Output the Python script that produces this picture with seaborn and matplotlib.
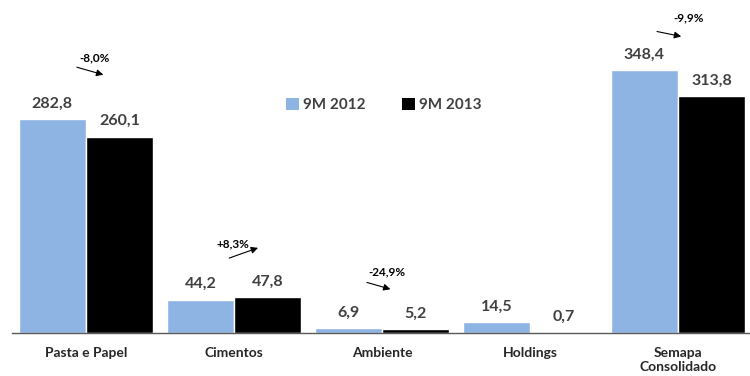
import matplotlib
matplotlib.use("Agg")
import matplotlib.pyplot as plt
import seaborn as sns
import pandas as pd
from matplotlib.patches import Patch

categories = ["Pasta e Papel", "Cimentos", "Ambiente", "Holdings", "Semapa\nConsolidado"]
series_names = ["9M 2012", "9M 2013"]
values_2012 = [282.8, 44.2, 6.9, 14.5, 348.4]
values_2013 = [260.1, 47.8, 5.2, 0.7, 313.8]
value_labels_2012 = ["282,8", "44,2", "6,9", "14,5", "348,4"]
value_labels_2013 = ["260,1", "47,8", "5,2", "0,7", "313,8"]
change_labels = ["-8,0%", "+8,3%", "-24,9%", None, "-9,9%"]

colors = ["#8EB4E3", "#000000"]
text_color = "#404040"

sns.set_theme(style="white")
plt.rcParams["font.family"] = ["Lato", "DejaVu Sans"]

df = pd.DataFrame({
    "categoria": categories * 2,
    "serie": [series_names[0]] * 5 + [series_names[1]] * 5,
    "valor": values_2012 + values_2013,
})

fig = plt.figure(figsize=(7.5, 3.76), dpi=100)
ax = fig.add_axes([12 / 750, 43 / 376, 740 / 750, 333 / 376])

sns.barplot(data=df, x="categoria", y="valor", hue="serie", palette=colors,
            width=0.91, ax=ax, legend=False, saturation=1, errorbar=None)

ax.set_xlim(-0.5, 4.5)
ax.set_ylim(0, 441)
ax.set_xlabel("")
ax.set_ylabel("")
ax.set_yticks([])

for s in ["top", "right", "left"]:
    ax.spines[s].set_visible(False)
ax.spines["bottom"].set_color("#595959")
ax.spines["bottom"].set_linewidth(1.0)

ax.set_xticks(range(5))
ax.set_xticklabels(categories, fontsize=10, fontweight="bold", color="#262626")
ax.tick_params(axis="x", which="major", length=0, pad=10)
ax.set_xticks([i - 0.5 for i in range(5)], minor=True)
ax.tick_params(axis="x", which="minor", length=6, width=1, color="#595959", direction="out")

# value labels
bw = 0.91 / 2
for i in range(5):
    for j, (vals, labs) in enumerate([(values_2012, value_labels_2012), (values_2013, value_labels_2013)]):
        x = i - bw / 2 + j * bw
        ax.annotate(labs[i], (x, vals[i]), xytext=(0, 6), textcoords="offset points",
                    ha="center", va="bottom", fontsize=11.5, fontweight="bold", color=text_color)

# change arrows
arrow_specs = {
    0: ((-0.08, 353), (0.135, 341)),
    1: ((-0.05, 98), (0.18, 114)),
    2: ((-0.12, 68), (0.075, 57)),
    4: ((-0.16, 400), (0.04, 392)),
}
text_pos = {0: (0.06, 364), 1: (-0.01, 118), 2: (0.03, 81), 4: (0.07, 417)}
for i, lab in enumerate(change_labels):
    if lab is None:
        continue
    (x0, y0), (x1, y1) = arrow_specs[i]
    ax.annotate("", xy=(i + x1, y1), xytext=(i + x0, y0),
                arrowprops=dict(arrowstyle="-|>", color="black", lw=0.8, mutation_scale=10))
    tx, ty = text_pos[i]
    ax.text(i + tx, ty, lab, ha="center", va="center", fontsize=8.5, fontweight="bold", color="black")

handles = [Patch(facecolor=colors[0], edgecolor="none"), Patch(facecolor=colors[1], edgecolor="none")]
leg = ax.legend(handles, series_names, loc="center", bbox_to_anchor=(372 / 740, 1 - 105 / 333),
                ncol=2, frameon=False, handlelength=0.8, handleheight=0.8, handletextpad=0.3,
                columnspacing=2.4, prop={"weight": "bold", "size": 11})
for t in leg.get_texts():
    t.set_color(text_color)

fig.savefig("out.png", dpi=100)
